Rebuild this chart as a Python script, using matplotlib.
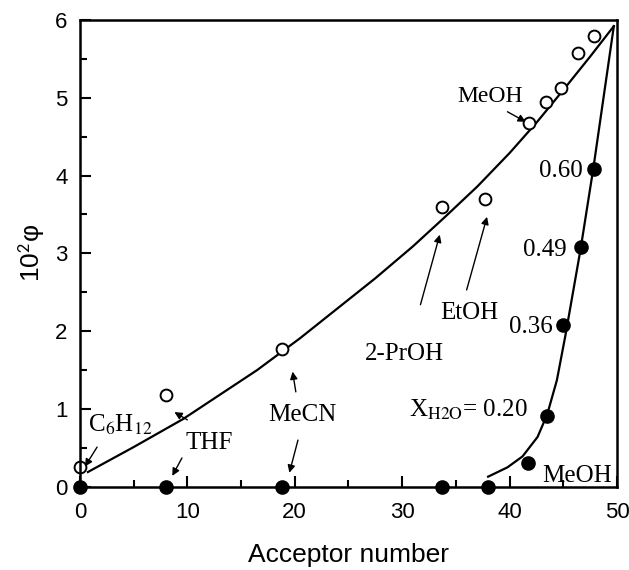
import matplotlib
matplotlib.use("Agg")
import matplotlib.pyplot as plt
from matplotlib.ticker import MultipleLocator

plt.rcParams['font.family'] = ['Liberation Sans', 'DejaVu Sans']
plt.rcParams['mathtext.fontset'] = 'stix'

# open circles: pure solvents (upper series)
open_x = [0, 8.0, 18.8, 33.7, 37.7, 41.8, 43.4, 44.8, 46.4, 47.9]
open_y = [0.25, 1.18, 1.77, 3.59, 3.70, 4.68, 4.95, 5.13, 5.57, 5.80]

# filled circles: pure solvents at zero
solv_x = [0, 8.0, 18.8, 33.7, 38.0]
solv_y = [0, 0, 0, 0, 0]

# filled circles: MeOH / water mixtures
mix_x = [41.7, 43.5, 45.0, 46.6, 47.9]
mix_y = [0.31, 0.91, 2.08, 3.08, 4.09]

# fitted curves
fit1_x = [0.75, 5.0, 9.6, 16.5, 20.5, 27.5, 31.0, 34.0, 37.0, 40.0, 42.5, 45.0, 47.5, 49.7]
fit1_y = [0.19, 0.51, 0.87, 1.50, 1.91, 2.68, 3.09, 3.47, 3.86, 4.29, 4.68, 5.10, 5.53, 5.92]
fit2_x = [38.0, 39.8, 41.2, 42.6, 43.5, 44.4, 45.2, 46.6, 47.8, 49.7]
fit2_y = [0.13, 0.25, 0.39, 0.64, 0.93, 1.37, 1.95, 3.05, 4.10, 5.92]

fig = plt.figure(figsize=(6.29, 5.70), dpi=100)
ax = fig.add_axes([0.127, 0.146, 0.854, 0.819])

ax.plot(fit1_x, fit1_y, color='k', lw=1.6)
ax.plot(fit2_x, fit2_y, color='k', lw=1.6)
ax.plot(open_x, open_y, 'o', mfc='white', mec='k', mew=1.4, ms=8.5, clip_on=False)
ax.plot(solv_x, solv_y, 'o', color='k', ms=9.5, clip_on=False, zorder=5)
ax.plot(mix_x, mix_y, 'o', color='k', ms=9.5, clip_on=False, zorder=5)

ax.set_xlim(0, 50)
ax.set_ylim(0, 6)
ax.xaxis.set_major_locator(MultipleLocator(10))
ax.xaxis.set_minor_locator(MultipleLocator(5))
ax.yaxis.set_major_locator(MultipleLocator(1))
ax.yaxis.set_minor_locator(MultipleLocator(0.5))
ax.tick_params(which='both', direction='in', width=1.5, labelsize=16)
ax.tick_params(which='major', length=8)
ax.tick_params(which='minor', length=5)
ax.tick_params(axis='x', pad=11)
ax.tick_params(axis='y', pad=9)
for s in ax.spines.values():
    s.set_linewidth(1.8)

ax.set_xlabel('Acceptor number', fontsize=19, labelpad=14)
ax.set_ylabel(r'10$^{\mathsf{2}}$φ', fontsize=19, labelpad=6)

serif = dict(family=['Liberation Serif', 'DejaVu Serif'], fontsize=18)
arrow = dict(arrowstyle='-|>', lw=1, color='k', mutation_scale=11, shrinkA=0, shrinkB=0)

ax.text(0.75, 0.71, r'C$_{6}$H$_{12}$', **serif)
ax.annotate('', xy=(0.47, 0.26), xytext=(1.6, 0.51), arrowprops=arrow)

ax.text(9.8, 0.49, 'THF', **serif)
ax.annotate('', xy=(8.6, 0.14), xytext=(9.5, 0.37), arrowprops=arrow)
ax.annotate('', xy=(8.8, 0.96), xytext=(10.0, 0.86), arrowprops=arrow)

ax.text(17.5, 0.85, 'MeCN', **serif)
ax.annotate('', xy=(19.8, 1.48), xytext=(20.1, 1.22), arrowprops=arrow)
ax.annotate('', xy=(19.5, 0.18), xytext=(20.3, 0.60), arrowprops=arrow)

ax.text(26.5, 1.63, '2-PrOH', **serif)
ax.annotate('', xy=(33.5, 3.24), xytext=(31.7, 2.34), arrowprops=arrow)

ax.text(33.5, 2.15, 'EtOH', **serif)
ax.annotate('', xy=(37.9, 3.47), xytext=(36.0, 2.53), arrowprops=arrow)

ax.text(35.1, 4.94, 'MeOH', family=['Liberation Serif'], fontsize=17)
ax.annotate('', xy=(41.5, 4.69), xytext=(39.8, 4.82), arrowprops=arrow)

ax.text(43.0, 0.06, 'MeOH', family=['Liberation Serif'], fontsize=18)

ax.text(41.7, 0.90, r'X$_{\mathrm{H2O}}$= 0.20', ha='right', **serif)
ax.text(44.0, 1.98, '0.36', ha='right', **serif)
ax.text(45.3, 2.97, '0.49', ha='right', **serif)
ax.text(46.8, 3.98, '0.60', ha='right', **serif)

fig.savefig('out.png', dpi=100)
